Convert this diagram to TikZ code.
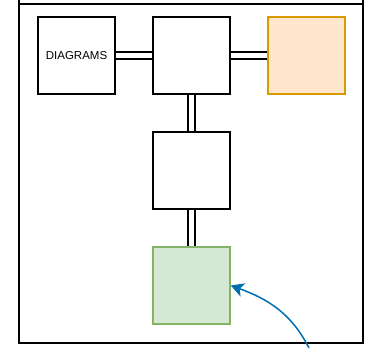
\documentclass[tikz,border=0pt]{standalone}
\usepackage{fontspec}
\setmainfont{Liberation Sans}
\usetikzlibrary{arrows.meta}
\definecolor{orangefill}{HTML}{FFE6CC}
\definecolor{orangeline}{HTML}{D79B00}
\definecolor{greenfill}{HTML}{D5E8D4}
\definecolor{greenline}{HTML}{82B366}
\definecolor{bluearrow}{HTML}{006EAF}

\begin{document}
\begin{tikzpicture}[x=1pt, y=1pt,
    block/.style={draw=black, fill=white, line width=1.5pt, minimum size=77pt,
      inner sep=0pt, font=\fontsize{11.5}{13}\selectfont},
    link/.style={draw=black, line width=1.4pt, double=white, double distance=5.5pt},
    curve/.style={draw=bluearrow, line width=1.5pt,
      -{Stealth[length=13pt, width=14pt, inset=3.5pt]}}]
  \useasboundingbox (0,0) rectangle (367,348);
  % container
  \draw[line width=1.6pt] (19,348) -- (19,5) -- (363,5) -- (363,348);
  \draw[line width=1.6pt] (19,344) -- (363,344);
  % blocks
  \node[block] (diagrams) at (76.5,292.5) {DIAGRAMS};
  \node[block] (top) at (191.5,292.5) {};
  \node[block, fill=orangefill, draw=orangeline] (orange) at (306.5,292.5) {};
  \node[block] (middle) at (191.5,177.5) {};
  \node[block, fill=greenfill, draw=greenline] (green) at (191.5,62.5) {};
  % links
  \draw[link] (diagrams) -- (top);
  \draw[link] (top) -- (orange);
  \draw[link] (top) -- (middle);
  \draw[link] (middle) -- (green);
  % arrow
  \coordinate (start) at (309,0);
  \draw[curve] (start) to[out=117, in=-20] (green.east);
\end{tikzpicture}
\end{document}
